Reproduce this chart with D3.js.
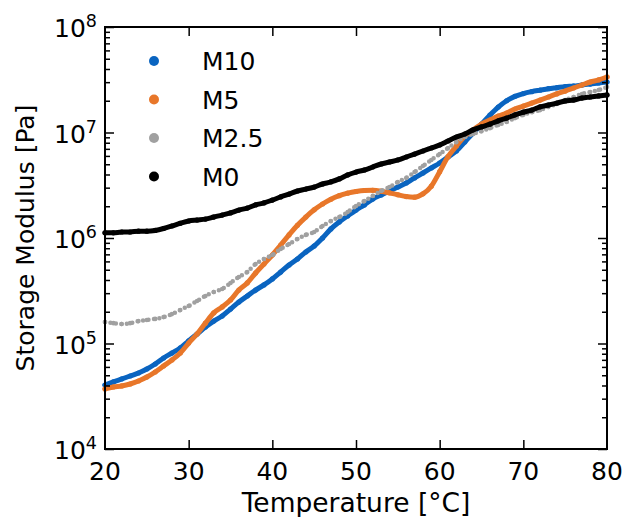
<!DOCTYPE html>
<html>
<head>
<meta charset="utf-8">
<script src="https://cdn.jsdelivr.net/npm/d3@7"></script>
<style>
  body { margin: 0; background: #fff; }
  svg text { font-family: "DejaVu Sans", sans-serif; fill: #000; }
</style>
</head>
<body>
<div id="graph"></div>
<script>
// temperature in degC, one reading per degree
var temps = d3.range(20, 81);

// storage modulus in Pa
var m10 = [4.04e4, 4.32e4, 4.61e4, 4.92e4, 5.25e4, 5.73e4, 6.39e4, 7.29e4, 8.13e4, 9.07e4,
  1.06e5, 1.23e5, 1.43e5, 1.63e5, 1.82e5, 2.12e5, 2.47e5, 2.82e5, 3.21e5, 3.59e5,
  4.09e5, 4.76e5, 5.55e5, 6.32e5, 7.37e5, 8.40e5, 1.00e6, 1.22e6, 1.42e6, 1.62e6,
  1.84e6, 2.06e6, 2.34e6, 2.56e6, 2.79e6, 3.04e6, 3.32e6, 3.71e6, 4.13e6, 4.61e6,
  5.14e6, 5.86e6, 6.68e6, 8.13e6, 9.90e6, 1.20e7, 1.46e7, 1.74e7, 2.00e7, 2.20e7,
  2.34e7, 2.44e7, 2.52e7, 2.60e7, 2.66e7, 2.72e7, 2.76e7, 2.82e7, 2.88e7, 2.95e7, 3.01e7];

var m5 = [3.71e4, 3.87e4, 3.96e4, 4.13e4, 4.41e4, 4.81e4, 5.37e4, 6.12e4, 6.98e4, 8.13e4,
  1.01e5, 1.23e5, 1.56e5, 1.95e5, 2.22e5, 2.58e5, 3.21e5, 3.75e5, 4.66e5, 5.67e5,
  6.90e5, 8.58e5, 1.07e6, 1.32e6, 1.58e6, 1.85e6, 2.10e6, 2.33e6, 2.52e6, 2.66e6,
  2.76e6, 2.82e6, 2.83e6, 2.78e6, 2.68e6, 2.57e6, 2.47e6, 2.44e6, 2.62e6, 3.10e6,
  4.25e6, 5.90e6, 7.45e6, 9.20e6, 1.06e7, 1.20e7, 1.31e7, 1.43e7, 1.53e7, 1.67e7,
  1.78e7, 1.90e7, 2.03e7, 2.17e7, 2.32e7, 2.47e7, 2.64e7, 2.82e7, 3.01e7, 3.15e7, 3.36e7];

var m2_5 = [1.60e5, 1.56e5, 1.53e5, 1.56e5, 1.63e5, 1.67e5, 1.71e5, 1.78e5, 1.90e5, 2.08e5,
  2.27e5, 2.53e5, 2.82e5, 3.08e5, 3.29e5, 3.75e5, 4.27e5, 4.76e5, 5.67e5, 6.32e5,
  6.90e5, 7.87e5, 8.77e5, 9.78e5, 1.07e6, 1.14e6, 1.30e6, 1.45e6, 1.58e6, 1.76e6,
  2.01e6, 2.24e6, 2.50e6, 2.79e6, 3.04e6, 3.40e6, 3.71e6, 4.22e6, 4.81e6, 5.49e6,
  6.25e6, 7.13e6, 8.13e6, 9.06e6, 9.68e6, 1.03e7, 1.10e7, 1.18e7, 1.26e7, 1.37e7,
  1.47e7, 1.56e7, 1.63e7, 1.75e7, 1.86e7, 2.03e7, 2.17e7, 2.32e7, 2.42e7, 2.53e7, 2.70e7];

var m0 = [1.12e6, 1.12e6, 1.14e6, 1.14e6, 1.16e6, 1.16e6, 1.18e6, 1.23e6, 1.30e6, 1.38e6,
  1.45e6, 1.48e6, 1.51e6, 1.58e6, 1.65e6, 1.73e6, 1.84e6, 1.92e6, 2.06e6, 2.15e6,
  2.29e6, 2.45e6, 2.61e6, 2.79e6, 2.91e6, 3.04e6, 3.25e6, 3.40e6, 3.63e6, 3.96e6,
  4.22e6, 4.41e6, 4.71e6, 5.03e6, 5.25e6, 5.49e6, 5.86e6, 6.25e6, 6.68e6, 7.13e6,
  7.61e6, 8.31e6, 9.06e6, 9.68e6, 1.06e7, 1.13e7, 1.20e7, 1.29e7, 1.37e7, 1.47e7,
  1.56e7, 1.63e7, 1.75e7, 1.82e7, 1.90e7, 1.99e7, 2.03e7, 2.12e7, 2.17e7, 2.22e7, 2.27e7];

var seriesNames = ["M10", "M5", "M2.5", "M0"];
var seriesColors = ["#0a64c0", "#e8772a", "#a0a0a0", "#000000"];
var seriesValues = [m10, m5, m2_5, m0];

var xTicks = [20, 30, 40, 50, 60, 70, 80];
var yExps = [4, 5, 6, 7, 8];

var w = 625;
var h = 517;
var pLeft = 105, pRight = 607, pTop = 27, pBottom = 449;

var vis = d3.select("#graph")
  .append("svg")
  .attr("width", w)
  .attr("height", h);

var x = d3.scaleLinear().domain([20, 80]).range([pLeft, pRight]);
var y = d3.scaleLog().domain([1e4, 1e8]).range([pBottom, pTop]);

// data first, frame on top
var plot = vis.append("g");

seriesValues.forEach(function(vals, i) {
  var pts = temps.map(function(t, j) { return {t: t, v: vals[j]}; });
  var line = d3.line()
    .x(function(d) { return x(d.t); })
    .y(function(d) { return y(d.v); })
    .curve(d3.curveMonotoneX);
  var isGray = seriesNames[i] == "M2.5";
  plot.append("path")
    .attr("d", line(pts))
    .attr("fill", "none")
    .attr("stroke", seriesColors[i])
    .attr("stroke-width", isGray ? 4.5 : 5)
    .attr("stroke-linecap", "round")
    .attr("stroke-dasharray", isGray ? "0 5.5" : null);
  plot.selectAll(".pt" + i)
    .data(pts)
    .enter()
    .append("circle")
    .attr("cx", function(d) { return x(d.t); })
    .attr("cy", function(d) { return y(d.v); })
    .attr("r", isGray ? 2.3 : 2.6)
    .attr("fill", seriesColors[i]);
});

// axes with inward ticks
var majorY = yExps.map(function(e) { return Math.pow(10, e); });
var minorTicks = [];
yExps.slice(0, -1).forEach(function(e) {
  for (var k = 2; k < 10; k++) minorTicks.push(k * Math.pow(10, e));
});

function yMinor(g, dir) {
  g.call(dir(y).tickValues(minorTicks).tickSize(-5).tickFormat(""));
}

vis.append("g")
  .attr("transform", "translate(0," + pBottom + ")")
  .call(d3.axisBottom(x).tickValues(xTicks.slice(1, -1)).tickSize(-9).tickFormat(""));
vis.append("g")
  .attr("transform", "translate(0," + pTop + ")")
  .call(d3.axisTop(x).tickValues(xTicks.slice(1, -1)).tickSize(-9).tickFormat(""));
vis.append("g")
  .attr("transform", "translate(" + pLeft + ",0)")
  .call(d3.axisLeft(y).tickValues(majorY).tickSize(-9).tickFormat(""));
vis.append("g")
  .attr("transform", "translate(" + pRight + ",0)")
  .call(d3.axisRight(y).tickValues(majorY).tickSize(-9).tickFormat(""));
vis.append("g")
  .attr("transform", "translate(" + pLeft + ",0)")
  .call(yMinor, d3.axisLeft);
vis.append("g")
  .attr("transform", "translate(" + pRight + ",0)")
  .call(yMinor, d3.axisRight);

vis.selectAll(".domain").remove();
vis.selectAll(".tick line")
  .attr("stroke", "#000")
  .attr("stroke-width", 1.5);

vis.append("rect")
  .attr("x", pLeft)
  .attr("y", pTop)
  .attr("width", pRight - pLeft)
  .attr("height", pBottom - pTop)
  .attr("fill", "none")
  .attr("stroke", "#000")
  .attr("stroke-width", 2);

// tick labels
vis.selectAll(".xlab")
  .data(xTicks)
  .enter()
  .append("text")
  .attr("x", function(d) { return x(d); })
  .attr("y", pBottom + 31)
  .attr("text-anchor", "middle")
  .style("font-size", "25px")
  .text(function(d) { return d; });

var ylab = vis.selectAll(".ylab")
  .data(yExps)
  .enter()
  .append("text")
  .attr("x", 97)
  .attr("y", function(d) { return y(Math.pow(10, d)) + 10; })
  .attr("text-anchor", "end")
  .style("font-size", "25px");
ylab.append("tspan").text("10");
ylab.append("tspan")
  .attr("dy", -10)
  .style("font-size", "17.5px")
  .text(function(d) { return d; });

// axis titles
vis.append("text")
  .attr("x", (pLeft + pRight) / 2)
  .attr("y", 512)
  .attr("text-anchor", "middle")
  .style("font-size", "26.5px")
  .text("Temperature [°C]");

vis.append("text")
  .attr("transform", "translate(34," + (pTop + pBottom) / 2 + ") rotate(-90)")
  .attr("text-anchor", "middle")
  .style("font-size", "25px")
  .text("Storage Modulus [Pa]");

// legend
var leg = vis.selectAll(".leg")
  .data(seriesNames)
  .enter()
  .append("g")
  .attr("transform", function(d, i) { return "translate(154," + (61 + i * 38.5) + ")"; });
leg.append("circle")
  .attr("r", 5)
  .attr("fill", function(d, i) { return seriesColors[i]; });
leg.append("text")
  .attr("x", 48)
  .attr("y", 9)
  .style("font-size", "25px")
  .text(function(d) { return d; });
</script>
</body>
</html>
